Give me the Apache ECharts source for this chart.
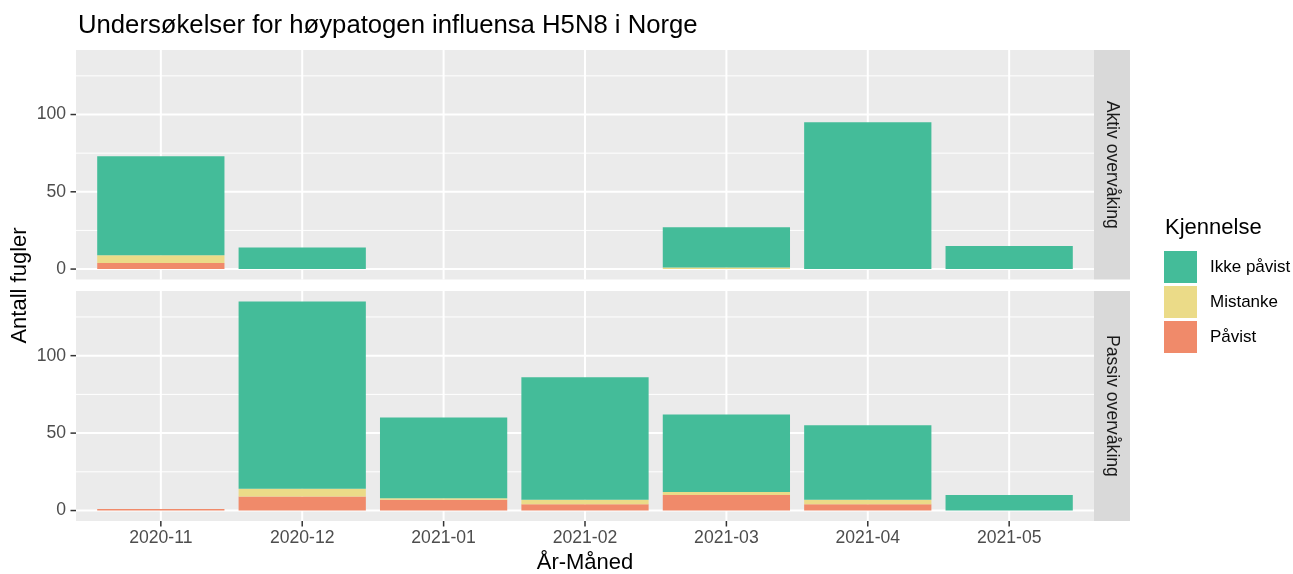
<!DOCTYPE html>
<html>
<head>
<meta charset="utf-8">
<script src="https://cdn.jsdelivr.net/npm/echarts@6/dist/echarts.min.js"></script>
<style>
html,body{margin:0;padding:0;background:#fff;}
#chart{width:1293px;height:574px;}
</style>
</head>
<body>
<div id="chart"></div>
<script>
// ---- data ----
const months = ['2020-11','2020-12','2021-01','2021-02','2021-03','2021-04','2021-05'];
const aktivPavist    = [4, 0, 0, 0, 0, 0, 0];
const aktivMistanke  = [5, 0, 0, 0, 1, 0, 0];
const aktivIkke      = [64, 14, 0, 0, 26, 95, 15];
const passivPavist   = [1, 9, 7, 4, 10, 4, 0];
const passivMistanke = [0, 5, 1, 3, 2, 3, 0];
const passivIkke     = [0, 121, 52, 79, 50, 48, 10];
const yTicks = [0, 50, 100];
const yMinor = [25, 75, 125];
const panelNames = ['Aktiv overvåking', 'Passiv overvåking'];
const seriesNames = ['Påvist', 'Mistanke', 'Ikke påvist'];
const legendOrder = ['Ikke påvist', 'Mistanke', 'Påvist'];

// ---- style / layout ----
const colors = {'Påvist': '#F08A6A', 'Mistanke': '#EBDB88', 'Ikke påvist': '#44BC99'};
const FONT = '"Liberation Sans", Arial, sans-serif';
const L = 76, R = 1094, STRIP = 36, TICK = 5.5;
const panels = [{top: 50, height: 229.5}, {top: 291, height: 230}];
const yMin = -6.75, yMax = 141.75;
const xMin = -0.6, xMax = months.length - 0.4;
const unit = (R - L) / (xMax - xMin);
const barW = 0.9 * unit;
const xIdx = months.map((m, i) => i);

const chart = echarts.init(document.getElementById('chart'), null, {renderer: 'canvas'});

// value first so that the stacked dimension is the y value
function toPairs(arr) {
  return arr.map((v, i) => [v, i]);
}

// kinds: 0 vertical major grid, 1 horizontal major, 2 horizontal minor, 3 x tick, 4 y tick
function renderGrid(params, api) {
  const cs = params.coordSys;
  const kind = api.value(2);
  if (kind === 0 || kind === 3) {
    const p = api.coord([api.value(0), 0]);
    if (kind === 0) {
      return {type: 'line', shape: {x1: p[0], y1: cs.y, x2: p[0], y2: cs.y + cs.height},
              style: {stroke: '#FFFFFF', lineWidth: 2}};
    }
    const yb = cs.y + cs.height;
    return {type: 'line', shape: {x1: p[0], y1: yb, x2: p[0], y2: yb + TICK},
            style: {stroke: '#333333', lineWidth: 1.5}};
  }
  const p = api.coord([0, api.value(1)]);
  if (kind === 4) {
    return {type: 'line', shape: {x1: cs.x - TICK, y1: p[1], x2: cs.x, y2: p[1]},
            style: {stroke: '#333333', lineWidth: 1.5}};
  }
  return {type: 'line', shape: {x1: cs.x, y1: p[1], x2: cs.x + cs.width, y2: p[1]},
          style: {stroke: '#FFFFFF', lineWidth: kind === 1 ? 2 : 1}};
}

const grids = [], xAxes = [], yAxes = [], series = [], graphics = [];
const panelData = [
  [aktivPavist, aktivMistanke, aktivIkke],
  [passivPavist, passivMistanke, passivIkke]
];

panels.forEach((p, k) => {
  grids.push({left: L, width: R - L, top: p.top, height: p.height, show: true,
              backgroundColor: '#EBEBEB', borderWidth: 0});
  const bottom = k === panels.length - 1;
  xAxes.push({
    type: 'value', gridIndex: k, min: xMin, max: xMax,
    axisLine: {show: false}, splitLine: {show: false}, axisTick: {show: false},
    axisLabel: {show: bottom, customValues: xIdx, formatter: v => months[Math.round(v)] || '',
                color: '#4D4D4D', fontSize: 17.6, fontFamily: FONT, margin: 8}
  });
  yAxes.push({
    type: 'value', gridIndex: k, min: yMin, max: yMax,
    axisLine: {show: false}, splitLine: {show: false}, axisTick: {show: false},
    axisLabel: {customValues: yTicks, color: '#4D4D4D', fontSize: 17.6, fontFamily: FONT, margin: 10}
  });
  const gdata = [];
  xIdx.forEach(x => gdata.push([x, 0, 0]));
  yTicks.forEach(y => gdata.push([0, y, 1]));
  yMinor.forEach(y => gdata.push([0, y, 2]));
  yTicks.forEach(y => gdata.push([0, y, 4]));
  if (bottom) xIdx.forEach(x => gdata.push([x, 0, 3]));
  series.push({type: 'custom', xAxisIndex: k, yAxisIndex: k, z: 1, silent: true, clip: false,
               renderItem: renderGrid, data: gdata, encode: {x: 0, y: 1}});
  seriesNames.forEach((name, j) => {
    series.push({
      type: 'bar', name: name, xAxisIndex: k, yAxisIndex: k, stack: 'panel' + k, z: 2,
      barWidth: barW, itemStyle: {color: colors[name]},
      encode: {x: 1, y: 0},
      data: toPairs(panelData[k][j])
    });
  });
  graphics.push({type: 'rect', shape: {x: R, y: p.top, width: STRIP, height: p.height},
                 style: {fill: '#D9D9D9'}, silent: true});
  graphics.push({type: 'text', x: R + STRIP / 2, y: p.top + p.height / 2, rotation: -Math.PI / 2,
                 style: {text: panelNames[k], fill: '#1A1A1A', font: '17.6px ' + FONT,
                         textAlign: 'center', textVerticalAlign: 'middle'}, silent: true});
});

graphics.push({type: 'text', x: 20, y: (panels[0].top + panels[1].top + panels[1].height) / 2,
               rotation: Math.PI / 2,
               style: {text: 'Antall fugler', fill: '#000000', font: '22px ' + FONT,
                       textAlign: 'center', textVerticalAlign: 'middle'}});
graphics.push({type: 'text', x: (L + R) / 2, y: 563,
               style: {text: 'År-Måned', fill: '#000000', font: '22px ' + FONT,
                       textAlign: 'center', textVerticalAlign: 'middle'}});
graphics.push({type: 'text', x: 1165, y: 228,
               style: {text: 'Kjennelse', fill: '#000000', font: '22px ' + FONT,
                       textAlign: 'left', textVerticalAlign: 'middle'}});

chart.setOption({
  animation: false,
  title: {text: 'Undersøkelser for høypatogen influensa H5N8 i Norge', left: 78, top: 13, padding: 0,
          textStyle: {fontSize: 25.7, fontWeight: 'normal', color: '#000000', fontFamily: FONT}},
  legend: {data: legendOrder, orient: 'vertical', left: 1164, top: 251, padding: 0, icon: 'rect',
           itemWidth: 33, itemHeight: 32, itemGap: 3, selectedMode: false,
           textStyle: {fontSize: 17, color: '#000000', fontFamily: FONT, padding: [0, 0, 0, 8]}},
  grid: grids, xAxis: xAxes, yAxis: yAxes, series: series, graphic: graphics
});
</script>
</body>
</html>
